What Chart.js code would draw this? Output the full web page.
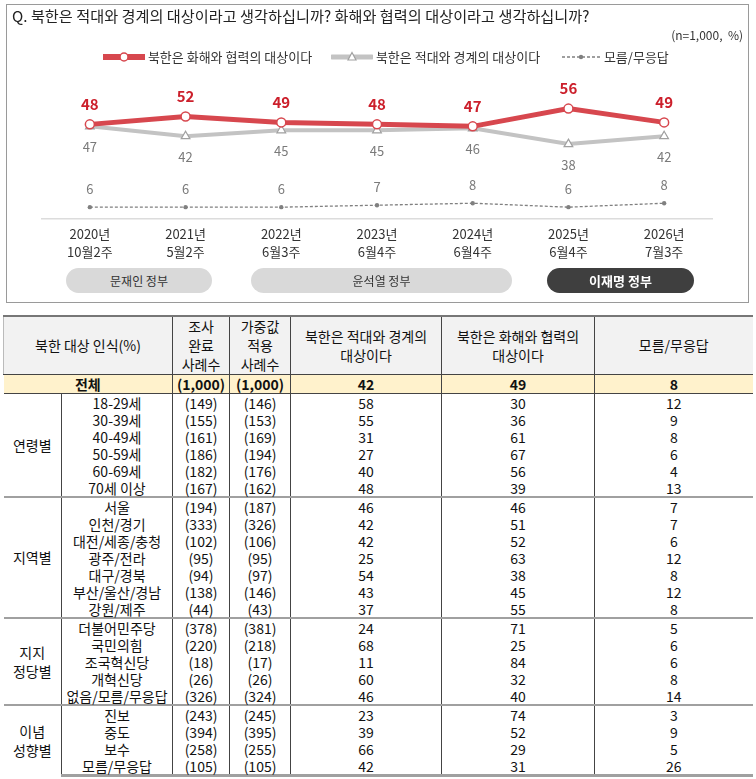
<!DOCTYPE html>
<html>
<head>
<meta charset="utf-8">
<script src="https://cdn.jsdelivr.net/npm/chart.js@4"></script>
<style>
  body { margin:0; background:#fff; font-family:"Noto Sans CJK KR", "Noto Sans", sans-serif; color:#333; }
  #page { position:relative; width:756px; height:779px; }
  #box { position:absolute; left:6px; top:4px; width:741px; height:297px; border:1px solid #9a9a9a; }
  #title { position:absolute; left:12px; top:4px; font-size:15.2px; color:#222; white-space:nowrap; }
  #unit { position:absolute; right:13px; top:26px; font-size:12px; color:#333; }
  #legend { position:absolute; top:48px; left:0; font-size:13px; color:#333; }
  .leg { position:absolute; white-space:nowrap; line-height:18px; }
  #chart { position:absolute; left:0; top:0; }
  .pill { position:absolute; top:268px; height:25px; line-height:25px; border-radius:13px; text-align:center; font-size:12px; }
  table { position:absolute; left:3px; top:315px; width:749px; border-collapse:collapse; table-layout:fixed; font-size:14px; color:#111; }
  td, th { padding:0; text-align:center; line-height:16px; height:17px; font-weight:normal; white-space:nowrap; }
  thead th { background:#f2f2f2; height:57px; line-height:19px; border-top:2px solid #777; border-bottom:1px solid #444; }
  thead th:first-child { border-left:1px solid #bbb; }
  .v { border-left:1px solid #444; }
  tr.total td { background:#fff2cc; font-weight:bold; height:18px; border-bottom:1px solid #444; }
  tr.gstart td { border-top:2px solid #a0a0a0; }
  tr.first td { border-top:none; }
  tbody tr:last-child td { border-bottom:3px solid #a0a0a0; }
  td.grp { border-bottom:none; }
</style>
</head>
<body>
<div id="page">
  <canvas id="chart" width="756" height="300"></canvas>
  <div id="box"></div>
  <div id="title">Q. 북한은 적대와 경계의 대상이라고 생각하십니까? 화해와 협력의 대상이라고 생각하십니까?</div>
  <div id="unit">(n=1,000, &nbsp;%)</div>
  <div id="legend"></div>
  <div class="pill" style="left:66px;width:146px;background:#d9d9d9;color:#333;">문재인 정부</div>
  <div class="pill" style="left:251px;width:261px;background:#d9d9d9;color:#333;">윤석열 정부</div>
  <div class="pill" style="left:547px;width:147px;background:#3f3f3f;color:#fff;font-weight:bold;font-size:13px;">이재명 정부</div>
  <table id="tbl"></table>
</div>
<script>
// ---- chart data ----
const periods = [['2020년','10월2주'],['2021년','5월2주'],['2022년','6월3주'],['2023년','6월4주'],['2024년','6월4주'],['2025년','6월4주'],['2026년','7월3주']];
const reconcile = [48, 52, 49, 48, 47, 56, 49];
const hostile = [47, 42, 45, 45, 46, 38, 42];
const dontKnow = [6, 6, 6, 7, 8, 6, 8];
const seriesNames = ['북한은 화해와 협력의 대상이다', '북한은 적대와 경계의 대상이다', '모름/무응답'];

// ---- table data ----
const tableHead = ['북한 대상 인식(%)', '조사<br>완료<br>사례수', '가중값<br>적용<br>사례수', '북한은 적대와 경계의<br>대상이다', '북한은 화해와 협력의<br>대상이다', '모름/무응답'];
const totalRow = ['전체', '(1,000)', '(1,000)', 42, 49, 8];
const ageRows = [
  ['18-29세', '(149)', '(146)', 58, 30, 12],
  ['30-39세', '(155)', '(153)', 55, 36, 9],
  ['40-49세', '(161)', '(169)', 31, 61, 8],
  ['50-59세', '(186)', '(194)', 27, 67, 6],
  ['60-69세', '(182)', '(176)', 40, 56, 4],
  ['70세 이상', '(167)', '(162)', 48, 39, 13]
];
const regionRows = [
  ['서울', '(194)', '(187)', 46, 46, 7],
  ['인천/경기', '(333)', '(326)', 42, 51, 7],
  ['대전/세종/충청', '(102)', '(106)', 42, 52, 6],
  ['광주/전라', '(95)', '(95)', 25, 63, 12],
  ['대구/경북', '(94)', '(97)', 54, 38, 8],
  ['부산/울산/경남', '(138)', '(146)', 43, 45, 12],
  ['강원/제주', '(44)', '(43)', 37, 55, 8]
];
const partyRows = [
  ['더불어민주당', '(378)', '(381)', 24, 71, 5],
  ['국민의힘', '(220)', '(218)', 68, 25, 6],
  ['조국혁신당', '(18)', '(17)', 11, 84, 6],
  ['개혁신당', '(26)', '(26)', 60, 32, 8],
  ['없음/모름/무응답', '(326)', '(324)', 46, 40, 14]
];
const ideologyRows = [
  ['진보', '(243)', '(245)', 23, 74, 3],
  ['중도', '(394)', '(395)', 39, 52, 9],
  ['보수', '(258)', '(255)', 66, 29, 5],
  ['모름/무응답', '(105)', '(105)', 42, 31, 26]
];
const groups = [
  ['연령별', ageRows],
  ['지역별', regionRows],
  ['지지<br>정당별', partyRows],
  ['이념<br>성향별', ideologyRows]
];

// legend
const legend = document.getElementById('legend');
legend.innerHTML =
  '<div class="leg" style="left:103px;top:0"><svg width="42" height="18" style="vertical-align:top"><line x1="1" y1="9" x2="41" y2="9" stroke="#d7474e" stroke-width="6" stroke-linecap="round"/><circle cx="21" cy="9" r="4" fill="#fff" stroke="#d7474e" stroke-width="1.5"/></svg> ' + seriesNames[0] + '</div>' +
  '<div class="leg" style="left:331px;top:0"><svg width="42" height="18" style="vertical-align:top"><line x1="1" y1="9" x2="41" y2="9" stroke="#c3c3c3" stroke-width="5" stroke-linecap="round"/><path d="M21 4.5 L25 12 L17 12 Z" fill="#fff" stroke="#a0a0a0" stroke-width="1.2"/></svg> ' + seriesNames[1] + '</div>' +
  '<div class="leg" style="left:561px;top:0"><svg width="40" height="18" style="vertical-align:top"><line x1="1" y1="9" x2="39" y2="9" stroke="#808080" stroke-width="1.3" stroke-dasharray="3,2"/><circle cx="20" cy="9" r="2.2" fill="#808080"/></svg> ' + seriesNames[2] + '</div>';

// table
let html = '<colgroup><col style="width:58px"><col style="width:111px"><col style="width:57px"><col style="width:61px"><col style="width:151px"><col style="width:153px"><col style="width:158px"></colgroup>';
html += '<thead><tr><th colspan="2">' + tableHead[0] + '</th>';
for (let i = 1; i < tableHead.length; i++) html += '<th class="v">' + tableHead[i] + '</th>';
html += '</tr></thead><tbody>';
html += '<tr class="total"><td colspan="2">' + totalRow[0] + '</td>';
for (let i = 1; i < totalRow.length; i++) html += '<td class="v">' + totalRow[i] + '</td>';
html += '</tr>';
groups.forEach(([name, rows], gi) => {
  rows.forEach((r, ri) => {
    const cls = ri === 0 ? (gi === 0 ? 'gstart first' : 'gstart') : '';
    html += '<tr class="' + cls + '">';
    if (ri === 0) html += '<td class="grp" rowspan="' + rows.length + '" style="line-height:19px">' + name + '</td>';
    r.forEach(c => { html += '<td class="v">' + c + '</td>'; });
    html += '</tr>';
  });
});
html += '</tbody>';
document.getElementById('tbl').innerHTML = html;

// value labels plugin
const valueLabels = {
  id: 'valueLabels',
  afterDatasetsDraw(chart) {
    const ctx = chart.ctx;
    chart.data.datasets.forEach((ds, i) => {
      const meta = chart.getDatasetMeta(i);
      meta.data.forEach((pt, j) => {
        ctx.save();
        ctx.font = ds.labelFont;
        ctx.fillStyle = ds.labelColor;
        ctx.textAlign = 'center';
        ctx.textBaseline = 'middle';
        ctx.fillText(ds.data[j], pt.x, pt.y + ds.labelOffset);
        ctx.restore();
      });
    });
  }
};

const fam = '"Noto Sans CJK KR", "Noto Sans", sans-serif';
new Chart(document.getElementById('chart'), {
  type: 'line',
  data: {
    labels: periods,
    datasets: [
      {
        label: seriesNames[0],
        data: reconcile,
        borderColor: '#d7474e',
        borderWidth: 5,
        pointStyle: 'circle',
        pointRadius: 4.5,
        pointBorderWidth: 1.5,
        pointBackgroundColor: '#fff',
        pointBorderColor: '#d7474e',
        labelOffset: -20,
        labelColor: '#cc1f2b',
        labelFont: 'bold 15px ' + fam
      },
      {
        label: seriesNames[1],
        data: hostile,
        borderColor: '#c3c3c3',
        borderWidth: 4,
        pointStyle: 'triangle',
        pointRadius: 5,
        pointBorderWidth: 1.2,
        pointBackgroundColor: '#fff',
        pointBorderColor: '#a0a0a0',
        labelOffset: 21,
        labelColor: '#7a7a7a',
        labelFont: '13px ' + fam
      },
      {
        label: seriesNames[2],
        data: dontKnow,
        borderColor: '#808080',
        borderWidth: 1.3,
        borderDash: [3, 2],
        pointStyle: 'circle',
        pointRadius: 2.2,
        pointBorderWidth: 0,
        pointBackgroundColor: '#808080',
        labelOffset: -18,
        labelColor: '#7a7a7a',
        labelFont: '13px ' + fam
      }
    ]
  },
  options: {
    responsive: false,
    animation: false,
    layout: { padding: { left: 42, right: 44, top: 81, bottom: 0 } },
    plugins: { legend: { display: false }, tooltip: { enabled: false } },
    scales: {
      x: {
        offset: true,
        grid: { display: false, drawTicks: false },
        border: { display: true, color: '#dcdcdc', width: 1.5 },
        ticks: { color: '#333', font: { size: 13, family: fam, lineHeight: 1.4 }, padding: 6, maxRotation: 0, autoSkip: false },
        afterFit: s => { s.height = 81; }
      },
      y: { display: false, min: 0, max: 70 }
    }
  },
  plugins: [valueLabels]
});
</script>
</body>
</html>
